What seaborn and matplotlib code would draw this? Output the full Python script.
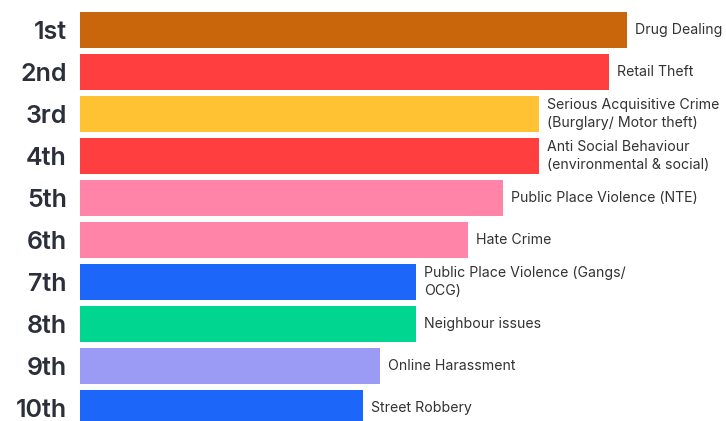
import matplotlib
matplotlib.use("Agg")
import matplotlib.pyplot as plt
import seaborn as sns
import pandas as pd

ranks = ["1st", "2nd", "3rd", "4th", "5th", "6th", "7th", "8th", "9th", "10th"]
issues = [
    "Drug Dealing",
    "Retail Theft",
    "Serious Acquisitive Crime\n(Burglary/ Motor theft)",
    "Anti Social Behaviour\n(environmental & social)",
    "Public Place Violence (NTE)",
    "Hate Crime",
    "Public Place Violence (Gangs/\nOCG)",
    "Neighbour issues",
    "Online Harassment",
    "Street Robbery",
]
scores = [547, 529, 459, 459, 423, 388, 336, 336, 300, 283]
colors = ["#C9650A", "#FF3F3F", "#FFC233", "#FF3F3F", "#FF84A8",
          "#FF84A8", "#1C66FA", "#00D68F", "#9B9AF4", "#1C66FA"]

df = pd.DataFrame({"rank": ranks, "issue": issues, "score": scores})

sns.set_theme(style="white")
plt.rcParams["font.family"] = ["Inter", "DejaVu Sans"]

fig = plt.figure(figsize=(7.26, 4.21), dpi=100)
ax = fig.add_axes([80 / 726, 0, 646 / 726, 1])

sns.barplot(data=df, y="rank", x="score", hue="rank", palette=colors,
            orient="h", width=0.857, legend=False, ax=ax,
            edgecolor="none", saturation=1)

for i, (s, lab) in enumerate(zip(scores, issues)):
    ax.text(s + 8, i, lab, va="center", ha="left", fontsize=10.2,
            color="#333333", linespacing=1.45)

ax.set_xlim(0, 646)
ax.set_ylim(9.31, -0.714)
ax.set_xlabel("")
ax.set_ylabel("")
ax.set_xticks([])
ax.tick_params(axis="y", length=0, pad=9.5)
for t in ax.get_yticklabels():
    t.set_fontsize(18)
    t.set_fontweight("semibold")
    t.set_color("#2B2F3A")
for sp in ax.spines.values():
    sp.set_visible(False)

fig.savefig("out.png", dpi=100)
